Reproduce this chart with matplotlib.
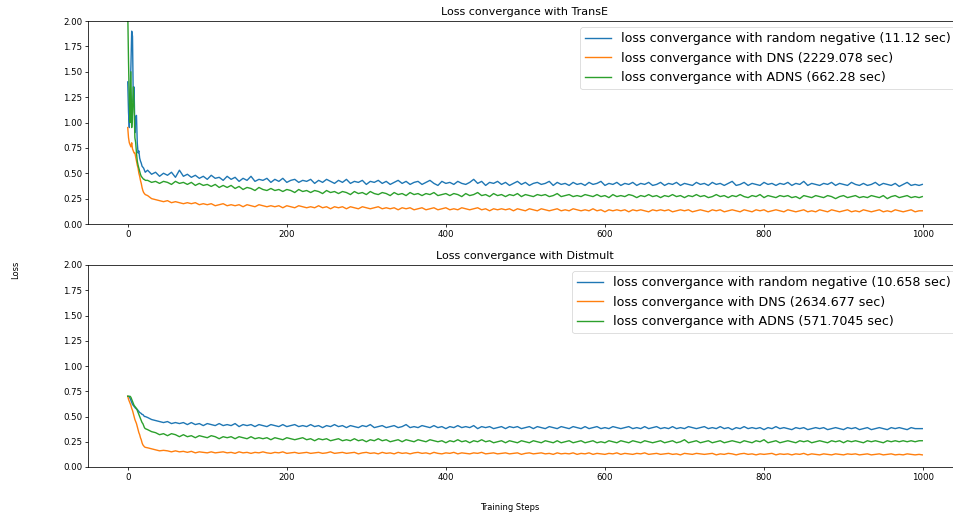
import matplotlib
matplotlib.use("Agg")
import matplotlib.pyplot as plt

# ---- step grid ----
steps = list(range(0, 23)) + list(range(25, 996, 5)) + [999]

# ---- TransE ----
transe_random = [
    1.40, 1.10, 0.95, 1.30, 1.55, 1.90, 1.85, 1.20, 1.35, 0.90, 1.05, 1.07,
    0.80, 0.70, 0.72, 0.65, 0.62, 0.60, 0.57, 0.56, 0.55, 0.53, 0.51,
    0.53, 0.49, 0.51, 0.47, 0.50, 0.48, 0.51, 0.46, 0.53, 0.47,
    0.49, 0.46, 0.48, 0.45, 0.47, 0.44, 0.48, 0.45, 0.46, 0.43,
    0.47, 0.44, 0.46, 0.42, 0.45, 0.43, 0.47, 0.42, 0.44, 0.43,
    0.45, 0.41, 0.44, 0.42, 0.45, 0.41, 0.43, 0.44, 0.41, 0.43,
    0.42, 0.44, 0.40, 0.43, 0.41, 0.44, 0.42, 0.40, 0.43, 0.41,
    0.44, 0.40, 0.42, 0.41, 0.43, 0.39, 0.42, 0.41, 0.43, 0.40,
    0.42, 0.39, 0.41, 0.43, 0.40, 0.42, 0.39, 0.41, 0.42, 0.39,
    0.41, 0.43, 0.40, 0.38, 0.42, 0.40, 0.41, 0.39, 0.42, 0.40,
    0.39, 0.41, 0.44, 0.40, 0.42, 0.38, 0.41, 0.40, 0.42, 0.39,
    0.41, 0.38, 0.40, 0.42, 0.39, 0.41, 0.38, 0.40, 0.41, 0.39,
    0.40, 0.42, 0.38, 0.41, 0.39, 0.40, 0.38, 0.41, 0.39, 0.40,
    0.38, 0.41, 0.39, 0.40, 0.42, 0.38, 0.40, 0.39, 0.41, 0.38,
    0.40, 0.39, 0.41, 0.38, 0.40, 0.39, 0.41, 0.38, 0.39, 0.41,
    0.38, 0.40, 0.39, 0.41, 0.38, 0.40, 0.39, 0.38, 0.41, 0.39,
    0.40, 0.38, 0.41, 0.39, 0.40, 0.38, 0.40, 0.42, 0.38, 0.39,
    0.41, 0.38, 0.40, 0.39, 0.38, 0.41, 0.39, 0.40, 0.38, 0.40,
    0.39, 0.41, 0.38, 0.40, 0.39, 0.42, 0.38, 0.40, 0.39, 0.38,
    0.40, 0.39, 0.41, 0.38, 0.40, 0.39, 0.38, 0.41, 0.39, 0.38,
    0.40, 0.38, 0.39, 0.41, 0.38, 0.40, 0.39, 0.38, 0.40, 0.37,
    0.39, 0.41, 0.38, 0.39, 0.38,
    0.39]
transe_dns = [
    0.95, 0.85, 0.80, 0.78, 0.76, 0.80, 0.74, 0.72, 0.70, 0.70, 0.66, 0.62,
    0.58, 0.55, 0.50, 0.47, 0.43, 0.40, 0.36, 0.33, 0.31, 0.30, 0.29,
    0.28, 0.25, 0.24, 0.23, 0.22, 0.23, 0.21, 0.22, 0.21, 0.20,
    0.21, 0.20, 0.21, 0.19, 0.20, 0.19, 0.20, 0.18, 0.19, 0.20,
    0.18, 0.19, 0.18, 0.19, 0.17, 0.19, 0.18, 0.17, 0.19, 0.18,
    0.17, 0.18, 0.17, 0.18, 0.16, 0.18, 0.17, 0.16, 0.18, 0.17,
    0.16, 0.17, 0.16, 0.18, 0.16, 0.17, 0.15, 0.17, 0.16, 0.17,
    0.15, 0.17, 0.16, 0.15, 0.17, 0.16, 0.15, 0.16, 0.17, 0.15,
    0.16, 0.15, 0.16, 0.14, 0.16, 0.15, 0.16, 0.14, 0.15, 0.16,
    0.14, 0.15, 0.16, 0.14, 0.15, 0.16, 0.14, 0.15, 0.14, 0.16,
    0.15, 0.14, 0.15, 0.16, 0.14, 0.15, 0.13, 0.15, 0.14, 0.15,
    0.14, 0.15, 0.13, 0.15, 0.14, 0.13, 0.15, 0.14, 0.13, 0.15,
    0.14, 0.13, 0.14, 0.15, 0.13, 0.14, 0.13, 0.15, 0.14, 0.13,
    0.14, 0.13, 0.15, 0.13, 0.14, 0.12, 0.14, 0.13, 0.14, 0.13,
    0.14, 0.12, 0.14, 0.13, 0.14, 0.13, 0.12, 0.14, 0.13, 0.14,
    0.13, 0.14, 0.12, 0.13, 0.14, 0.13, 0.14, 0.12, 0.13, 0.14,
    0.13, 0.12, 0.14, 0.13, 0.14, 0.12, 0.13, 0.14, 0.13, 0.12,
    0.14, 0.13, 0.12, 0.14, 0.13, 0.14, 0.12, 0.13, 0.14, 0.13,
    0.12, 0.14, 0.13, 0.12, 0.13, 0.14, 0.12, 0.13, 0.12, 0.14,
    0.13, 0.12, 0.14, 0.13, 0.12, 0.13, 0.14, 0.12, 0.13, 0.12,
    0.14, 0.13, 0.12, 0.13, 0.14, 0.12, 0.13, 0.12, 0.14, 0.13,
    0.12, 0.13, 0.14, 0.12, 0.13,
    0.13]
transe_adns = [
    2.10, 1.60, 1.20, 1.00, 1.50, 0.95, 1.10, 1.35, 1.16, 0.85, 0.80, 0.70,
    0.62, 0.58, 0.55, 0.52, 0.49, 0.47, 0.46, 0.45, 0.44, 0.44, 0.43,
    0.43, 0.41, 0.42, 0.40, 0.42, 0.41, 0.39, 0.42, 0.40, 0.41,
    0.39, 0.41, 0.38, 0.40, 0.38, 0.39, 0.37, 0.39, 0.36, 0.38,
    0.36, 0.38, 0.35, 0.37, 0.34, 0.36, 0.35, 0.33, 0.36, 0.34,
    0.33, 0.35, 0.33, 0.34, 0.32, 0.34, 0.33, 0.31, 0.34, 0.32,
    0.33, 0.31, 0.33, 0.32, 0.30, 0.33, 0.31, 0.32, 0.30, 0.32,
    0.31, 0.29, 0.32, 0.30, 0.31, 0.29, 0.32, 0.30, 0.29, 0.31,
    0.30, 0.28, 0.31, 0.29, 0.30, 0.28, 0.31, 0.29, 0.30, 0.28,
    0.30, 0.29, 0.31, 0.28, 0.29, 0.30, 0.28, 0.30, 0.29, 0.27,
    0.30, 0.28, 0.29, 0.31, 0.28, 0.29, 0.27, 0.30, 0.28, 0.29,
    0.27, 0.29, 0.28, 0.30, 0.27, 0.29, 0.28, 0.27, 0.29, 0.28,
    0.29, 0.27, 0.28, 0.30, 0.27, 0.28, 0.29, 0.27, 0.28, 0.27,
    0.29, 0.28, 0.27, 0.29, 0.27, 0.28, 0.26, 0.29, 0.27, 0.28,
    0.27, 0.29, 0.28, 0.26, 0.28, 0.27, 0.29, 0.27, 0.28, 0.26,
    0.28, 0.27, 0.29, 0.27, 0.28, 0.26, 0.28, 0.27, 0.29, 0.27,
    0.28, 0.26, 0.27, 0.29, 0.27, 0.28, 0.26, 0.28, 0.27, 0.29,
    0.27, 0.26, 0.28, 0.27, 0.29, 0.26, 0.28, 0.27, 0.26, 0.28,
    0.27, 0.28, 0.26, 0.27, 0.25, 0.28, 0.27, 0.26, 0.28, 0.27,
    0.26, 0.28, 0.27, 0.25, 0.27, 0.28, 0.26, 0.27, 0.28, 0.26,
    0.27, 0.26, 0.28, 0.27, 0.26, 0.28, 0.25, 0.27, 0.28, 0.26,
    0.27, 0.28, 0.26, 0.27, 0.26,
    0.27]

# ---- Distmult ----
dist_random = [
    0.70, 0.70, 0.69, 0.68, 0.66, 0.64, 0.62, 0.61, 0.60, 0.59, 0.58, 0.575,
    0.57, 0.56, 0.55, 0.54, 0.535, 0.53, 0.52, 0.52, 0.51, 0.50, 0.50,
    0.49, 0.47, 0.46, 0.45, 0.44, 0.45, 0.43, 0.44, 0.43, 0.44,
    0.42, 0.44, 0.42, 0.43, 0.41, 0.43, 0.42, 0.41, 0.43, 0.41,
    0.42, 0.41, 0.43, 0.40, 0.42, 0.41, 0.42, 0.40, 0.42, 0.41,
    0.40, 0.42, 0.41, 0.40, 0.42, 0.40, 0.41, 0.42, 0.40, 0.41,
    0.40, 0.42, 0.40, 0.41, 0.39, 0.41, 0.40, 0.42, 0.40, 0.41,
    0.39, 0.41, 0.40, 0.39, 0.41, 0.40, 0.42, 0.39, 0.40, 0.41,
    0.39, 0.40, 0.41, 0.39, 0.40, 0.42, 0.39, 0.40, 0.39, 0.41,
    0.40, 0.39, 0.41, 0.39, 0.40, 0.38, 0.40, 0.39, 0.41, 0.39,
    0.40, 0.39, 0.41, 0.38, 0.40, 0.39, 0.40, 0.38, 0.39, 0.40,
    0.38, 0.40, 0.39, 0.40, 0.38, 0.39, 0.40, 0.38, 0.40, 0.39,
    0.38, 0.40, 0.39, 0.38, 0.40, 0.39, 0.38, 0.40, 0.39, 0.38,
    0.40, 0.38, 0.39, 0.40, 0.38, 0.39, 0.38, 0.40, 0.39, 0.38,
    0.39, 0.40, 0.38, 0.39, 0.38, 0.40, 0.38, 0.39, 0.40, 0.38,
    0.39, 0.38, 0.40, 0.38, 0.39, 0.38, 0.40, 0.39, 0.38, 0.39,
    0.40, 0.38, 0.39, 0.38, 0.40, 0.38, 0.39, 0.37, 0.39, 0.38,
    0.40, 0.38, 0.39, 0.38, 0.39, 0.37, 0.39, 0.38, 0.40, 0.38,
    0.39, 0.38, 0.37, 0.39, 0.38, 0.39, 0.37, 0.38, 0.39, 0.38,
    0.39, 0.37, 0.38, 0.39, 0.38, 0.37, 0.39, 0.38, 0.39, 0.37,
    0.38, 0.39, 0.37, 0.38, 0.39, 0.38, 0.37, 0.39, 0.38, 0.39,
    0.38, 0.37, 0.39, 0.38, 0.38,
    0.38]
dist_dns = [
    0.70, 0.67, 0.65, 0.63, 0.61, 0.58, 0.56, 0.53, 0.50, 0.47, 0.45, 0.43,
    0.40, 0.37, 0.34, 0.32, 0.29, 0.27, 0.24, 0.22, 0.21, 0.20, 0.195,
    0.19, 0.18, 0.17, 0.16, 0.165, 0.16, 0.15, 0.16, 0.15, 0.155,
    0.145, 0.155, 0.14, 0.15, 0.145, 0.14, 0.15, 0.14, 0.145, 0.15,
    0.14, 0.145, 0.135, 0.15, 0.14, 0.145, 0.135, 0.145, 0.14, 0.15,
    0.14, 0.135, 0.145, 0.14, 0.15, 0.135, 0.14, 0.145, 0.135, 0.14,
    0.145, 0.135, 0.14, 0.145, 0.135, 0.14, 0.15, 0.135, 0.14, 0.145,
    0.135, 0.14, 0.145, 0.13, 0.14, 0.145, 0.135, 0.14, 0.13, 0.145,
    0.135, 0.14, 0.13, 0.145, 0.135, 0.14, 0.13, 0.14, 0.145, 0.135,
    0.14, 0.13, 0.145, 0.135, 0.13, 0.14, 0.135, 0.145, 0.13, 0.14,
    0.135, 0.13, 0.14, 0.135, 0.145, 0.13, 0.135, 0.14, 0.13, 0.135,
    0.14, 0.13, 0.135, 0.14, 0.125, 0.135, 0.14, 0.13, 0.135, 0.14,
    0.13, 0.135, 0.125, 0.14, 0.13, 0.135, 0.13, 0.14, 0.125, 0.135,
    0.13, 0.14, 0.125, 0.135, 0.13, 0.125, 0.135, 0.13, 0.14, 0.125,
    0.135, 0.13, 0.125, 0.135, 0.13, 0.14, 0.125, 0.13, 0.135, 0.125,
    0.13, 0.135, 0.125, 0.13, 0.12, 0.135, 0.13, 0.125, 0.135, 0.13,
    0.125, 0.13, 0.135, 0.12, 0.13, 0.125, 0.135, 0.13, 0.12, 0.13,
    0.135, 0.125, 0.13, 0.12, 0.13, 0.125, 0.13, 0.135, 0.12, 0.13,
    0.125, 0.13, 0.12, 0.13, 0.125, 0.135, 0.12, 0.13, 0.125, 0.12,
    0.13, 0.125, 0.12, 0.13, 0.125, 0.12, 0.13, 0.125, 0.13, 0.12,
    0.125, 0.13, 0.12, 0.125, 0.13, 0.12, 0.125, 0.13, 0.12, 0.125,
    0.12, 0.13, 0.125, 0.12, 0.125,
    0.12]
dist_adns = [
    0.70, 0.70, 0.70, 0.70, 0.69, 0.67, 0.65, 0.63, 0.61, 0.60, 0.59, 0.58,
    0.56, 0.54, 0.52, 0.50, 0.48, 0.46, 0.44, 0.43, 0.41, 0.39, 0.38,
    0.37, 0.35, 0.34, 0.32, 0.33, 0.31, 0.33, 0.32, 0.30, 0.32,
    0.30, 0.31, 0.29, 0.31, 0.30, 0.29, 0.31, 0.30, 0.28, 0.30,
    0.29, 0.30, 0.28, 0.30, 0.29, 0.28, 0.30, 0.28, 0.29, 0.28,
    0.29, 0.27, 0.29, 0.28, 0.27, 0.29, 0.28, 0.27, 0.28, 0.29,
    0.27, 0.28, 0.26, 0.28, 0.27, 0.28, 0.26, 0.27, 0.28, 0.26,
    0.27, 0.26, 0.28, 0.26, 0.27, 0.25, 0.27, 0.26, 0.28, 0.26,
    0.27, 0.25, 0.26, 0.27, 0.25, 0.27, 0.26, 0.25, 0.27, 0.26,
    0.25, 0.27, 0.26, 0.25, 0.26, 0.24, 0.26, 0.25, 0.27, 0.25,
    0.26, 0.24, 0.26, 0.25, 0.27, 0.25, 0.26, 0.24, 0.25, 0.26,
    0.24, 0.26, 0.25, 0.24, 0.26, 0.25, 0.24, 0.26, 0.25, 0.24,
    0.26, 0.25, 0.24, 0.26, 0.24, 0.25, 0.26, 0.24, 0.25, 0.26,
    0.24, 0.25, 0.26, 0.24, 0.25, 0.24, 0.26, 0.25, 0.24, 0.26,
    0.25, 0.24, 0.26, 0.25, 0.24, 0.26, 0.25, 0.24, 0.25, 0.26,
    0.24, 0.25, 0.26, 0.24, 0.25, 0.27, 0.24, 0.25, 0.26, 0.24,
    0.25, 0.26, 0.24, 0.25, 0.26, 0.24, 0.25, 0.26, 0.25, 0.24,
    0.26, 0.25, 0.24, 0.26, 0.25, 0.27, 0.24, 0.25, 0.26, 0.24,
    0.25, 0.26, 0.25, 0.24, 0.26, 0.25, 0.26, 0.24, 0.25, 0.26,
    0.25, 0.24, 0.26, 0.25, 0.26, 0.24, 0.26, 0.25, 0.26, 0.25,
    0.24, 0.26, 0.25, 0.26, 0.25, 0.24, 0.26, 0.25, 0.26, 0.25,
    0.26, 0.25, 0.26, 0.25, 0.26,
    0.26]

transe_labels = ["loss convergance with random negative (11.12 sec)",
                 "loss convergance with DNS (2229.078 sec)",
                 "loss convergance with ADNS (662.28 sec)"]
dist_labels = ["loss convergance with random negative (10.658 sec)",
               "loss convergance with DNS (2634.677 sec)",
               "loss convergance with ADNS (571.7045 sec)"]
titles = ["Loss convergance with TransE", "Loss convergance with Distmult"]
yticks = [0.0, 0.25, 0.5, 0.75, 1.0, 1.25, 1.5, 1.75, 2.0]
xticks = [0, 200, 400, 600, 800, 1000]

W, H = 954, 516
fig = plt.figure(figsize=(W / 100, H / 100), dpi=100)
left = 88 / W
width = (962 - 88) / W
ax1 = fig.add_axes([left, 1 - 224 / H, width, (224 - 21) / H])
ax2 = fig.add_axes([left, 1 - 467 / H, width, (467 - 265) / H])

colors = ["#1f77b4", "#ff7f0e", "#2ca02c"]
panels = [(ax1, [transe_random, transe_dns, transe_adns], transe_labels, titles[0]),
          (ax2, [dist_random, dist_dns, dist_adns], dist_labels, titles[1])]
for ax, series, labels, title in panels:
    for s, lab, c in zip(series, labels, colors):
        ax.plot(steps, s, color=c, lw=1.0, label=lab)
    ax.set_ylim(0, 2.0)
    ax.set_yticks(yticks)
    ax.set_xticks(xticks)
    ax.set_xlim(-49.95, 1048.95)
    ax.tick_params(labelsize=6.2, width=0.55, length=2.3, pad=2)
    for sp in ax.spines.values():
        sp.set_linewidth(0.55)
    ax.set_title(title, fontsize=8.0, pad=4)
    leg = ax.legend(loc="upper right", fontsize=9.1)
    leg.get_frame().set_linewidth(0.55)

fig.text(0.016, 1 - 270 / H, "Loss", rotation=90, fontsize=6.0, ha="center", va="center")
fig.text(510 / W, 1 - 508 / H, "Training Steps", fontsize=6.0, ha="center", va="center")

fig.savefig("out.png", dpi=100)
